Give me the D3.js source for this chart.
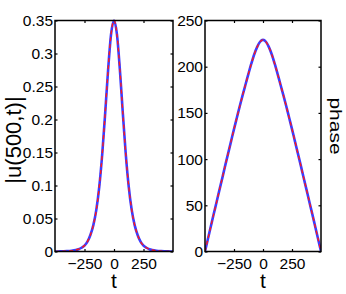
<!DOCTYPE html>
<html>
<head>
<meta charset="utf-8">
<script src="https://cdn.jsdelivr.net/npm/d3@7"></script>
<style>
  html, body { margin: 0; padding: 0; background: #fff; }
  svg { display: block; }
  text { font-family: "Liberation Sans", Arial, Helvetica, sans-serif; fill: #000; }
</style>
</head>
<body>
<svg id="chart" width="346" height="294"></svg>
<script>
// ---- data ----
const tValues = [-500,-475,-450,-425,-400,-375,-350,-325,-300,-275,-250,-225,-200,-175,-150,-125,-100,-75,-50,-25,
                 0,25,50,75,100,125,150,175,200,225,250,275,300,325,350,375,400,425,450,475,500];
const ampNumeric = [0.0001,0.0001,0.0002,0.0003,0.0005,0.0008,0.0013,0.0022,0.0035,0.0057,0.009,0.015,0.025,0.040,0.063,0.098,0.147,0.209,0.275,0.329,
                    0.35,0.329,0.275,0.209,0.147,0.098,0.063,0.040,0.025,0.015,0.009,0.0057,0.0035,0.0022,0.0013,0.0008,0.0005,0.0003,0.0002,0.0001,0.0001];
const ampExact   = [0.0001,0.0001,0.0002,0.0003,0.0005,0.0008,0.0013,0.0022,0.0035,0.0057,0.009,0.015,0.025,0.040,0.063,0.098,0.147,0.209,0.275,0.329,
                    0.35,0.329,0.275,0.209,0.147,0.098,0.063,0.040,0.025,0.015,0.009,0.0057,0.0035,0.0022,0.0013,0.0008,0.0005,0.0003,0.0002,0.0001,0.0001];
const phaseNumeric = [0,13.5,27,40.5,53.5,67,80,93.5,106.5,119.5,132.5,145,157.5,169.5,181,192.5,203.5,213.5,221.5,227,
                      229,227,221.5,213.5,203.5,192.5,181,169.5,157.5,145,132.5,119.5,106.5,93.5,80,67,53.5,40.5,27,13.5,0];
const phaseExact   = [0,13.5,27,40.5,53.5,67,80,93.5,106.5,119.5,132.5,145,157.5,169.5,181,192.5,203.5,213.5,221.5,227,
                      229,227,221.5,213.5,203.5,192.5,181,169.5,157.5,145,132.5,119.5,106.5,93.5,80,67,53.5,40.5,27,13.5,0];
const xTicks = [-250, 0, 250];
const ampTicks = [0, 0.05, 0.1, 0.15, 0.2, 0.25, 0.3, 0.35];
const phaseTicks = [0, 50, 100, 150, 200, 250];
const xLabel = "t";
const ampLabel = "|u(500,t)|";
const phaseLabel = "phase";

// ---- layout ----
const svg = d3.select("#chart");
const plotTop = 20.5, plotBottom = 251.5;
const panels = [
  { x0: 55, x1: 173, ydom: [0, 0.35], ticks: ampTicks, series: [ampNumeric, ampExact], id: "a",
    fmt: d => d === 0 ? "0" : String(+d.toFixed(2)) },
  { x0: 205, x1: 321, ydom: [0, 250], ticks: phaseTicks, series: [phaseNumeric, phaseExact], id: "p",
    fmt: d => String(d) }
];
const tickFont = 15.5, labelFont = 21, tickLen = 2.5;

panels.forEach(p => {
  const x = d3.scaleLinear().domain([-500, 500]).range([p.x0, p.x1]);
  const y = d3.scaleLinear().domain(p.ydom).range([plotBottom, plotTop]);
  const g = svg.append("g");

  g.append("clipPath").attr("id", "clip-" + p.id)
    .append("rect").attr("x", p.x0).attr("y", plotTop - 2).attr("width", p.x1 - p.x0).attr("height", plotBottom - plotTop + 2);

  const fmtX = d3.format("");
  const ax = g.append("g").attr("transform", `translate(0,${plotBottom})`)
    .call(d3.axisBottom(x).tickValues(xTicks).tickSize(-tickLen).tickPadding(6).tickFormat(d => fmtX(d)));
  const ay = g.append("g").attr("transform", `translate(${p.x0},0)`)
    .call(d3.axisLeft(y).tickValues(p.ticks).tickSize(-tickLen).tickPadding(2).tickFormat(p.fmt));
  const at = g.append("g").attr("transform", `translate(0,${plotTop})`)
    .call(d3.axisTop(x).tickValues(xTicks).tickSize(-tickLen).tickFormat(""));
  const ar = g.append("g").attr("transform", `translate(${p.x1},0)`)
    .call(d3.axisRight(y).tickValues(p.ticks).tickSize(-tickLen).tickFormat(""));
  [ax, ay, at, ar].forEach(a => {
    a.select(".domain").remove();
    a.selectAll(".tick line").attr("stroke", "#000").attr("stroke-width", 1.2);
    a.selectAll(".tick text").attr("font-size", tickFont).attr("font-family", '"Liberation Sans", Arial, sans-serif').attr("fill", "#000");
  });
  ax.selectAll(".tick text").attr("dy", "0.71em");

  const line = d3.line().x((d, i) => x(tValues[i])).y(d => y(d)).curve(d3.curveMonotoneX);
  const cg = g.append("g").attr("clip-path", `url(#clip-${p.id})`);
  cg.append("path").datum(p.series[0]).attr("d", line)
    .attr("fill", "none").attr("stroke", "#3c3cff").attr("stroke-width", 2.6);
  cg.append("path").datum(p.series[1]).attr("d", line)
    .attr("fill", "none").attr("stroke", "#ff1a1a").attr("stroke-width", 1.4).attr("stroke-dasharray", "4,3");

  g.append("rect").attr("x", p.x0).attr("y", plotTop).attr("width", p.x1 - p.x0).attr("height", plotBottom - plotTop)
    .attr("fill", "none").attr("stroke", "#000").attr("stroke-width", 1.5);

  g.append("text").attr("x", x(0)).attr("y", 287.5).attr("text-anchor", "middle")
    .attr("font-size", labelFont).text(xLabel);
});

svg.append("text").attr("transform", "translate(21,140) rotate(-90)")
  .attr("text-anchor", "middle").attr("font-size", 22).text(ampLabel);
svg.append("text").attr("transform", "translate(330,126) rotate(90) scale(1,0.75)")
  .attr("text-anchor", "middle").attr("font-size", labelFont).text(phaseLabel);
</script>
</body>
</html>
